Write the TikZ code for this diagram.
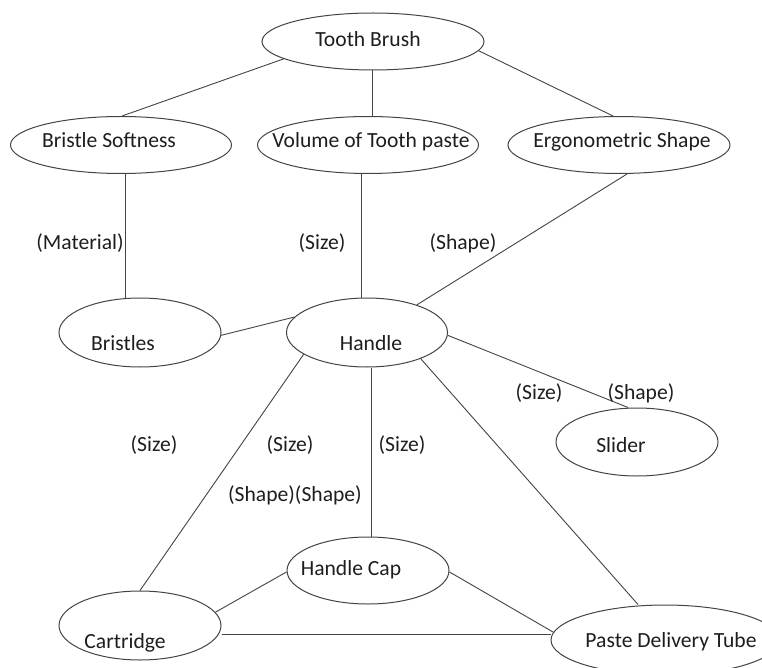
\documentclass[tikz,border=0pt]{standalone}
\usepackage{fontspec}
\setmainfont{Carlito}
\usetikzlibrary{shapes.geometric}
\definecolor{linec}{HTML}{444444}
\definecolor{txtc}{HTML}{1E1E1E}
\begin{document}
\begin{tikzpicture}[x=1pt,y=-1pt,
  ell/.style={draw=linec, ellipse, inner sep=0pt, line width=1pt},
  txt/.style={inner sep=0pt, text height=14pt, text depth=0pt, text=txtc, font=\fontsize{21.6}{26}\selectfont},
  conn/.style={draw=linec, line width=0.9pt}]
\clip (0,0) rectangle (762,668);
\fill[white] (0,0) rectangle (762,668);
% ellipses
\node[ell, minimum width=222, minimum height=57] (tb) at (373,41.5) {};
\node[ell, minimum width=221, minimum height=57] (bs) at (121,145) {};
\node[ell, minimum width=221, minimum height=57] (vol) at (368,145) {};
\node[ell, minimum width=222, minimum height=57] (ergo) at (619,145) {};
\node[ell, minimum width=162, minimum height=69] (br) at (140,332.5) {};
\node[ell, minimum width=161, minimum height=69] (hd) at (367,332.5) {};
\node[ell, minimum width=162, minimum height=68] (sl) at (637,442) {};
\node[ell, minimum width=162, minimum height=67] (hc) at (368,570.5) {};
\node[ell, minimum width=162, minimum height=69] (ca) at (140,625.5) {};
\node[ell, minimum width=228, minimum height=70] (pt) at (665,640) {};
% texts
\node[txt] (ttb) at (368,40) {Tooth Brush};
\node[txt] (tbs) at (109,141) {Bristle Softness};
\node[txt] (tvol) at (371,141) {Volume of Tooth paste};
\node[txt] (tergo) at (622,141) {Ergonometric Shape};
\node[txt] (tbr) at (123,343) {Bristles};
\node[txt] (thd) at (371,343) {Handle};
\node[txt] (tsl) at (621,445) {Slider};
\node[txt] (thc) at (351,568) {Handle Cap};
\node[txt] (tca) at (125,641) {Cartridge};
\node[txt] (tpt) at (671,640) {Paste Delivery Tube};
% labels
\node[txt] (l1) at (80,242) {(Material)};
\node[txt] (l2) at (322,242) {(Size)};
\node[txt] (l3) at (463,242) {(Shape)};
\node[txt] (l4) at (539,392) {(Size)};
\node[txt] (l5) at (641,392) {(Shape)};
\node[txt] (l6) at (154,444) {(Size)};
\node[txt] (l7) at (290,444) {(Size)};
\node[txt] (l8) at (402,444) {(Size)};
\node[txt] (l9) at (295,494) {(Shape)(Shape)};
% helper coordinates
\coordinate (c1) at ([xshift=4.5pt]bs.south);
\coordinate (c2) at ([xshift=-6.5pt]vol.south);
\coordinate (c3) at ([xshift=4.5pt]hd.south);
\coordinate (c4) at ([yshift=-8.5pt]ca.east);
% connectors
\draw[conn] (tb.191) -- (bs.88);
\draw[conn] ([xshift=-0.5pt]tb.south) -- ([xshift=-0.5pt]tb.south |- vol.north);
\draw[conn] (tb.-5) -- ([xshift=-6pt]ergo.north);
\draw[conn] (c1) -- (c1 |- br.north);
\draw[conn] (c2) -- (c2 |- hd.north);
\draw[conn] ([xshift=8pt]ergo.south) -- (hd.29);
\draw[conn] (br.-2) -- (hd.168);
\draw[conn] (hd.-2.5) -- ([xshift=-9pt]sl.north);
\draw[conn] (hd.199) -- (ca.north);
\draw[conn] (c3) -- (c3 |- hc.north);
\draw[conn] (hd.-26) -- ([xshift=-27pt]pt.north);
\draw[conn] (hc.181) -- (ca.10);
\draw[conn] (hc.-1) -- (pt.176);
\draw[conn] (c4) -- (c4 -| pt.west);
\end{tikzpicture}
\end{document}
